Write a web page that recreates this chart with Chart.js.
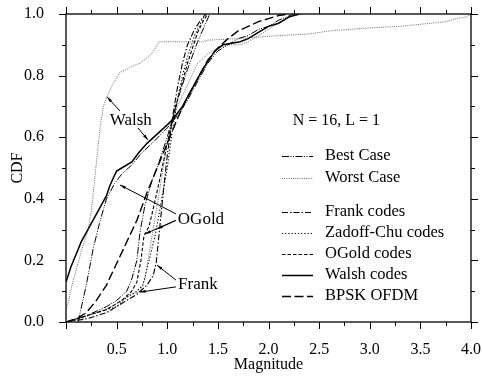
<!DOCTYPE html>
<html>
<head>
<meta charset="utf-8">
<script src="https://cdn.jsdelivr.net/npm/chart.js@4.4.0/dist/chart.umd.min.js"></script>
<style>
  html, body { margin: 0; padding: 0; background: #fff; }
  canvas { display: block; }
</style>
</head>
<body>
<canvas id="cdf" width="482" height="377"></canvas>
<script>
// Magnitude / CDF samples, one [magnitude, cdf] list per curve
const worstWalsh = [[0,0.04],[0.02,0.06],[0.06,0.12],[0.11,0.18],[0.16,0.24],[0.22,0.3],[0.25,0.36],[0.28,0.45],[0.31,0.55],[0.34,0.64],[0.37,0.7],[0.4,0.73],[0.46,0.77],[0.53,0.81],[0.6,0.82],[0.65,0.83],[0.73,0.84],[0.81,0.86],[0.86,0.876],[0.9,0.9],[0.92,0.91],[1.1,0.91],[1.35,0.91],[1.4,0.915],[1.7,0.92],[1.9,0.925],[2.1,0.93],[2.4,0.935],[2.6,0.945],[2.8,0.95],[3.0,0.955],[3.3,0.96],[3.45,0.965],[3.6,0.97],[3.75,0.975],[3.85,0.985],[3.95,0.99],[4.0,1.0]];
const walshCodes = [[0,0.13],[0.05,0.18],[0.1,0.22],[0.15,0.26],[0.2,0.29],[0.25,0.32],[0.3,0.35],[0.35,0.38],[0.4,0.41],[0.43,0.44],[0.47,0.47],[0.5,0.49],[0.55,0.5],[0.65,0.52],[0.72,0.55],[0.8,0.58],[0.9,0.61],[1.0,0.64],[1.06,0.66],[1.15,0.7],[1.25,0.76],[1.35,0.82],[1.47,0.88],[1.55,0.9],[1.72,0.91],[1.8,0.92],[1.9,0.94],[2.0,0.96],[2.1,0.97],[2.2,0.99],[2.3,1.0]];
const bestWalsh = [[0.12,0.0],[0.14,0.03],[0.2,0.12],[0.27,0.24],[0.33,0.32],[0.4,0.4],[0.48,0.45],[0.55,0.48],[0.65,0.51],[0.75,0.55],[0.85,0.58],[1.0,0.63],[1.1,0.67],[1.2,0.72],[1.3,0.78],[1.4,0.84],[1.5,0.88],[1.6,0.9],[1.7,0.92],[1.8,0.93],[1.9,0.95],[2.0,0.96],[2.1,0.98],[2.25,1.0]];
const bpskOfdm = [[0,0],[0.1,0.01],[0.2,0.03],[0.3,0.07],[0.4,0.12],[0.5,0.19],[0.6,0.26],[0.7,0.33],[0.8,0.42],[0.9,0.5],[1.0,0.58],[1.1,0.66],[1.2,0.73],[1.3,0.79],[1.4,0.85],[1.5,0.89],[1.6,0.92],[1.7,0.945],[1.8,0.96],[1.9,0.975],[2.0,0.985],[2.1,0.995],[2.2,1.0]];
const ogoldCodes = [[0,0],[0.2,0.02],[0.4,0.04],[0.55,0.07],[0.65,0.1],[0.7,0.13],[0.74,0.2],[0.77,0.28],[0.82,0.31],[0.87,0.38],[0.93,0.47],[1.0,0.58],[1.05,0.65],[1.1,0.72],[1.2,0.84],[1.3,0.94],[1.36,0.98],[1.4,1.0]];
const zadoffChuCodes = [[0,0],[0.2,0.02],[0.4,0.04],[0.5,0.05],[0.6,0.08],[0.7,0.1],[0.76,0.12],[0.82,0.2],[0.88,0.28],[0.93,0.37],[1.0,0.5],[1.05,0.62],[1.1,0.72],[1.15,0.8],[1.2,0.86],[1.27,0.93],[1.33,0.97],[1.38,1.0]];
const frankCodes = [[0,0],[0.2,0.01],[0.4,0.03],[0.55,0.06],[0.7,0.09],[0.8,0.12],[0.86,0.15],[0.89,0.19],[0.93,0.32],[0.97,0.45],[1.0,0.54],[1.05,0.66],[1.1,0.76],[1.15,0.84],[1.2,0.9],[1.27,0.95],[1.33,0.98],[1.38,1.0]];
const bestSteep = [[0,0],[0.2,0.02],[0.4,0.05],[0.5,0.07],[0.6,0.1],[0.65,0.14],[0.7,0.2],[0.73,0.29],[0.78,0.38],[0.85,0.46],[0.92,0.52],[1.0,0.6],[1.05,0.66],[1.1,0.72],[1.2,0.82],[1.3,0.91],[1.38,0.97],[1.42,1.0]];
const worstSteep = [[0,0],[0.15,0.01],[0.3,0.03],[0.45,0.05],[0.55,0.07],[0.65,0.09],[0.73,0.1],[0.78,0.14],[0.82,0.22],[0.86,0.3],[0.9,0.38],[0.95,0.48],[1.0,0.58],[1.05,0.65],[1.1,0.7],[1.2,0.77],[1.3,0.84],[1.4,0.87],[1.5,0.89],[1.6,0.9],[1.72,0.9],[1.8,0.91],[1.9,0.93],[2.0,0.95],[2.1,0.97],[2.2,0.99],[2.34,1.0]];

// Axis ticks
const xMajorTicks = [0, 0.5, 1.0, 1.5, 2.0, 2.5, 3.0, 3.5, 4.0];
const xMinorTicks = [0.25, 0.75, 1.25, 1.75, 2.25, 2.75, 3.25, 3.75];
const yMajorTicks = [0, 0.2, 0.4, 0.6, 0.8, 1.0];
const yMinorTicks = [0.1, 0.3, 0.5, 0.7, 0.9];

// Legend entries and curve labels
const legendItems = ['Best Case', 'Worst Case', 'Frank codes', 'Zadoff-Chu codes', 'OGold codes', 'Walsh codes', 'BPSK OFDM'];
const caption = 'N = 16, L = 1';

const SERIF = '"Liberation Serif", "Times New Roman", serif';
const dashes = {
  best:  [7, 1.5, 1, 1.5, 1, 1.5],
  worst: [1, 1.2],
  frank: [6, 2, 1.5, 2],
  zc:    [1.2, 2],
  ogold: [3.5, 2],
  walsh: [],
  bpsk:  [9, 3.5]
};
const widths = { best: 1, worst: 0.8, frank: 1.1, zc: 1.1, ogold: 1.1, walsh: 1.5, bpsk: 1.4 };
const colors = { best: '#000', worst: '#444', frank: '#000', zc: '#000', ogold: '#000', walsh: '#000', bpsk: '#000' };

function toPoints(list) { return list.map(([x, y]) => ({ x, y })); }
function curve(list, kind) {
  return {
    data: toPoints(list),
    borderColor: colors[kind],
    borderWidth: widths[kind],
    borderDash: dashes[kind],
    pointRadius: 0,
    tension: 0,
    fill: false
  };
}

// Text labels with pointer lines (data coordinates)
const curveLabels = [
  { text: 'Walsh', at: [0.64, 0.653], pointers: [[[0.533, 0.685], [0.405, 0.731]], [[0.711, 0.63], [0.81, 0.591]]] },
  { text: 'OGold', at: [1.333, 0.334], pointers: [[[1.086, 0.351], [0.533, 0.445]], [[1.086, 0.33], [0.78, 0.286]], [[1.086, 0.33], [0.898, 0.302]]] },
  { text: 'Frank', at: [1.303, 0.123], pointers: [[[1.086, 0.136], [0.898, 0.185]], [[1.086, 0.114], [0.73, 0.097]]] }
];

const framePlugin = {
  id: 'frame',
  afterDatasetsDraw(chart) {
    const { ctx, chartArea: a, scales: { x, y } } = chart;
    ctx.save();
    ctx.strokeStyle = '#000';
    ctx.lineWidth = 1.3;
    ctx.strokeRect(a.left, a.top, a.right - a.left, a.bottom - a.top);
    ctx.lineWidth = 1;
    ctx.beginPath();
    const xt = (v, len) => {
      const p = Math.round(x.getPixelForValue(v)) + 0.5;
      ctx.moveTo(p, a.bottom); ctx.lineTo(p, a.bottom + len);
      ctx.moveTo(p, a.top); ctx.lineTo(p, a.top - len);
    };
    const yt = (v, len) => {
      const p = Math.round(y.getPixelForValue(v)) + 0.5;
      ctx.moveTo(a.left, p); ctx.lineTo(a.left - len, p);
      ctx.moveTo(a.right, p); ctx.lineTo(a.right + len, p);
    };
    xMajorTicks.forEach(v => xt(v, 7));
    xMinorTicks.forEach(v => xt(v, 4));
    yMajorTicks.forEach(v => yt(v, 7));
    yMinorTicks.forEach(v => yt(v, 4));
    ctx.stroke();

    // curve labels and pointers
    ctx.fillStyle = '#000';
    ctx.font = '17px ' + SERIF;
    ctx.textAlign = 'center';
    ctx.textBaseline = 'middle';
    curveLabels.forEach(l => {
      ctx.fillText(l.text, x.getPixelForValue(l.at[0]), y.getPixelForValue(l.at[1]));
      l.pointers.forEach(([from, to]) => {
        const x0 = x.getPixelForValue(from[0]), y0 = y.getPixelForValue(from[1]);
        const x1 = x.getPixelForValue(to[0]), y1 = y.getPixelForValue(to[1]);
        ctx.lineWidth = 1;
        ctx.beginPath(); ctx.moveTo(x0, y0); ctx.lineTo(x1, y1); ctx.stroke();
        const ang = Math.atan2(y1 - y0, x1 - x0);
        ctx.beginPath();
        ctx.moveTo(x1, y1);
        ctx.lineTo(x1 - 6 * Math.cos(ang - 0.25), y1 - 6 * Math.sin(ang - 0.25));
        ctx.lineTo(x1 - 6 * Math.cos(ang + 0.25), y1 - 6 * Math.sin(ang + 0.25));
        ctx.closePath(); ctx.fill();
      });
    });

    ctx.font = '16px ' + SERIF;
    ctx.fillText(caption, x.getPixelForValue(2.67), y.getPixelForValue(0.653));

    // legend
    const keys = ['best', 'worst', 'frank', 'zc', 'ogold', 'walsh', 'bpsk'];
    const rowY = [156, 178, 212, 233, 254, 275, 296];
    ctx.font = '16.5px ' + SERIF;
    ctx.textAlign = 'left';
    legendItems.forEach((name, i) => {
      const k = keys[i];
      ctx.save();
      ctx.strokeStyle = colors[k];
      ctx.lineWidth = widths[k];
      ctx.setLineDash(dashes[k]);
      ctx.beginPath(); ctx.moveTo(282, rowY[i] + 0.5); ctx.lineTo(313, rowY[i] + 0.5); ctx.stroke();
      ctx.restore();
      ctx.fillText(name, 325, rowY[i]);
    });
    ctx.restore();
  }
};

new Chart(document.getElementById('cdf'), {
  type: 'line',
  data: {
    datasets: [
      curve(worstWalsh, 'worst'),
      curve(bestWalsh, 'best'),
      curve(walshCodes, 'walsh'),
      curve(bpskOfdm, 'bpsk'),
      curve(bestSteep, 'best'),
      curve(ogoldCodes, 'ogold'),
      curve(zadoffChuCodes, 'zc'),
      curve(frankCodes, 'frank'),
      curve(worstSteep, 'worst')
    ]
  },
  options: {
    responsive: false,
    animation: false,
    layout: { padding: { left: 0, right: 11, top: 14, bottom: 0 } },
    plugins: { legend: { display: false }, tooltip: { enabled: false } },
    scales: {
      x: {
        type: 'linear', min: 0, max: 4,
        grid: { display: false }, border: { display: false },
        afterFit(s) { s.height = 55; s.paddingLeft = 0; s.paddingRight = 0; },
        afterBuildTicks(s) { s.ticks = xMajorTicks.map(v => ({ value: v })); },
        ticks: {
          padding: 10, color: '#000', maxRotation: 0, autoSkip: false,
          font: { family: SERIF, size: 16 },
          callback: v => (v === 0 ? '' : v.toFixed(1))
        },
        title: { display: true, text: 'Magnitude', color: '#000', font: { family: SERIF, size: 16, lineHeight: 1 }, padding: { top: 0, bottom: 4 } }
      },
      y: {
        type: 'linear', min: 0, max: 1,
        grid: { display: false }, border: { display: false },
        afterFit(s) { s.width = 66; s.paddingTop = 0; s.paddingBottom = 0; },
        afterBuildTicks(s) { s.ticks = yMajorTicks.map(v => ({ value: v })); },
        ticks: {
          padding: 14, color: '#000', autoSkip: false,
          font: { family: SERIF, size: 16 },
          callback: v => v.toFixed(1)
        },
        title: { display: true, text: 'CDF', color: '#000', font: { family: SERIF, size: 16, lineHeight: 1 }, padding: { top: 10, bottom: 0 } }
      }
    }
  },
  plugins: [framePlugin]
});
</script>
</body>
</html>
